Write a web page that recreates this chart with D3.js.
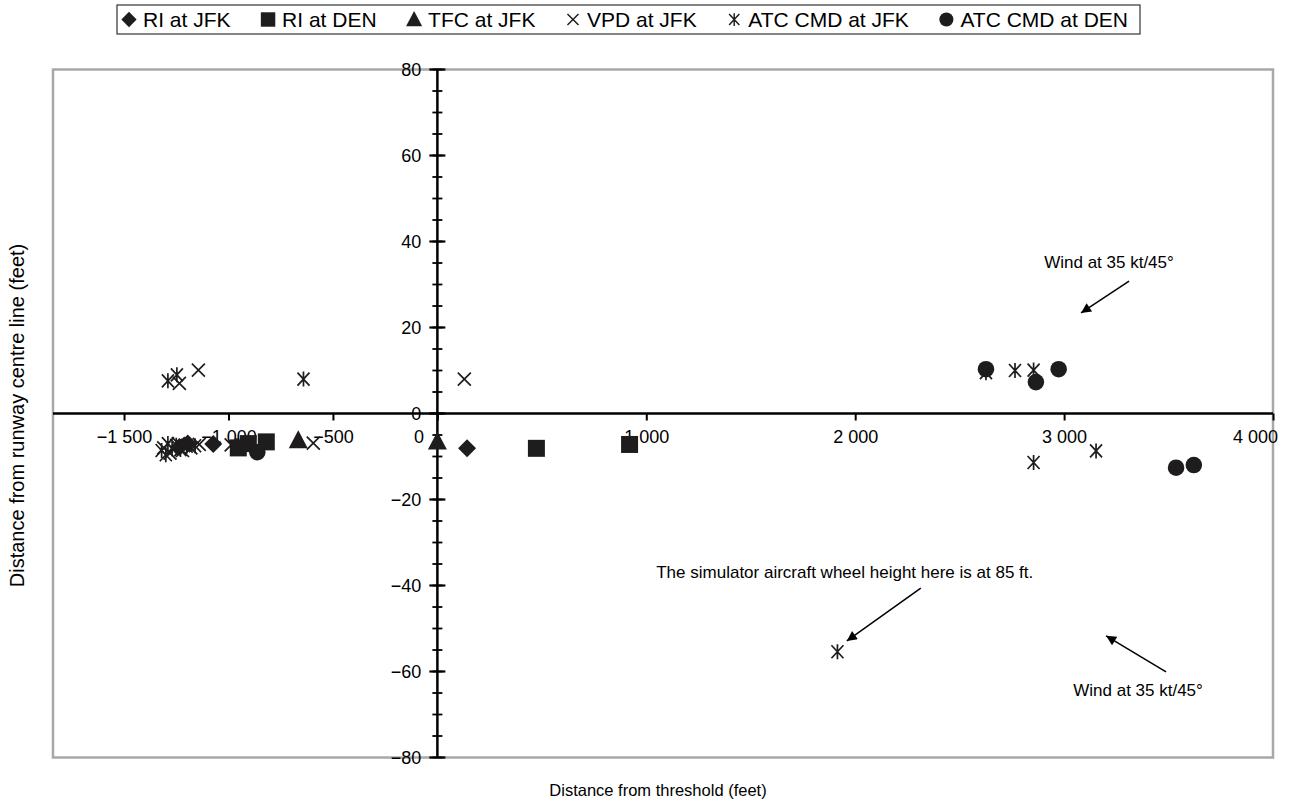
<!DOCTYPE html>
<html>
<head>
<meta charset="utf-8">
<script src="https://cdn.jsdelivr.net/npm/d3@7"></script>
<style>
body { margin: 0; background: #fff; }
svg { font-family: "Liberation Sans", Arial, sans-serif; }
</style>
</head>
<body>
<script>
// series values, [distance from threshold, distance from centre line] in feet
var riJfk = [[-1235, -7.8], [-1195, -7.0], [-1073, -7.1], [142, -8.1]];
var riDen = [[-953, -8.0], [-905, -7.0], [-819, -6.6], [474, -8.1], [920, -7.2]];
var tfcJfk = [[-666, -6.2], [0, -6.5]];
var vpdJfk = [[-1310, -8.0], [-1280, -9.2], [-1240, -7.0], [-1220, -8.6], [-1180, -8.0], [-1140, -7.2],
              [-987, -7.3], [-594, -6.9], [-1235, 7.0], [-1144, 10.1], [129, 8.0]];
var atcJfk = [[-1320, -8.6], [-1300, -9.6], [-1290, -7.0], [-1270, -8.2], [-1250, -7.4], [-1230, -8.4],
              [-1200, -7.6], [-1160, -7.5], [-1290, 7.6], [-1247, 9.0], [-641, 8.0],
              [2626, 9.5], [2765, 10.0], [2854, 10.1], [2854, -11.4], [3153, -8.7], [1915, -55.4]];
var atcDen = [[-862, -9.0], [2626, 10.3], [2865, 7.3], [2974, 10.3], [3536, -12.6], [3621, -12.0]];

var seriesNames = ["RI at JFK", "RI at DEN", "TFC at JFK", "VPD at JFK", "ATC CMD at JFK", "ATC CMD at DEN"];
var seriesData = [riJfk, riDen, tfcJfk, vpdJfk, atcJfk, atcDen];
var seriesShapes = ["diamond", "square", "triangle", "cross", "asterisk", "circle"];

// axis ticks
var xTicks = [-1500, -1000, -500, 0, 1000, 2000, 3000, 4000];
var yTicks = [-80, -60, -40, -20, 0, 20, 40, 60, 80];
var yMinorTicks = d3.range(-80, 81, 5);

// annotations: text position and arrow from/to, in data units
var notes = [
  {text: "Wind at 35 kt/45°", tx: 3215, ty: 35.2, from: [3311, 30.8], to: [3081, 23.4]},
  {text: "The simulator aircraft wheel height here is at 85 ft.", tx: 1950, ty: -36.9, from: [2314, -40.6], to: [1960, -52.9]},
  {text: "Wind at 35 kt/45°", tx: 3354, ty: -64.3, from: [3488, -60.1], to: [3201, -51.7]}
];

var W = 1290, H = 805;
var plot = {left: 53, top: 69.5, right: 1273, bottom: 757.5};
var ink = "#1e1c1d";

var svg = d3.select("body").append("svg")
  .attr("width", W).attr("height", H);

var x = d3.scaleLinear().domain([-1840, 4000]).range([plot.left, plot.right]);
var y = d3.scaleLinear().domain([-80, 80]).range([plot.bottom, plot.top]);

function fmt(v) {
  var s = d3.format(",")(Math.abs(v)).replace(/,/g, " ");
  return (v < 0 ? "\u2212" : "") + s;
}

// marker path generators, centred on 0,0
function shapePath(kind) {
  if (kind === "diamond") return "M0,-9L9,0L0,9L-9,0Z";
  if (kind === "square") return "M-8.5,-8.5H8.5V8.5H-8.5Z";
  if (kind === "triangle") return "M0,-10L9.5,8L-9.5,8Z";
  if (kind === "circle") return d3.symbol(d3.symbolCircle, 215)();
  if (kind === "cross") return "M-6.5,-6.5L6.5,6.5M6.5,-6.5L-6.5,6.5";
  if (kind === "asterisk") return "M-6,-6.5L6,6.5M6,-6.5L-6,6.5M0,-7.5V7.5";
}
function styleMarker(sel, kind) {
  var line = (kind === "cross" || kind === "asterisk");
  sel.attr("d", shapePath(kind))
    .attr("fill", line ? "none" : ink)
    .attr("stroke", ink)
    .attr("stroke-width", line ? 1.7 : 0);
}

// plot frame
svg.append("rect")
  .attr("x", plot.left).attr("y", plot.top)
  .attr("width", plot.right - plot.left).attr("height", plot.bottom - plot.top)
  .attr("fill", "none").attr("stroke", "#a8a8a8").attr("stroke-width", 2.5);

// x axis through y = 0
var xAxis = svg.append("g").attr("transform", "translate(0," + y(0) + ")")
  .call(d3.axisBottom(x).tickValues(xTicks).tickSize(7).tickSizeOuter(0).tickFormat(fmt));
xAxis.select(".domain").attr("stroke", "#000").attr("stroke-width", 2.5)
  .attr("d", "M" + plot.left + ",0H" + plot.right);
xAxis.selectAll(".tick line").attr("stroke", "#000").attr("stroke-width", 2);
xAxis.selectAll(".tick text")
  .attr("font-size", 18).attr("font-family", "Liberation Sans, Arial, sans-serif")
  .attr("fill", "#000").attr("y", 17)
  .attr("dx", function(d) { return d === 0 ? -19 : d === 4000 ? -18 : 0; });

// y axis through x = 0, ticks crossing the line
var yAxis = svg.append("g").attr("transform", "translate(" + x(0) + ",0)");
yAxis.append("line").attr("y1", plot.top).attr("y2", plot.bottom)
  .attr("stroke", "#000").attr("stroke-width", 2.5);
yAxis.selectAll(".minor").data(yMinorTicks).enter().append("line")
  .attr("x1", -5).attr("x2", 5)
  .attr("y1", function(d) { return y(d); }).attr("y2", function(d) { return y(d); })
  .attr("stroke", "#000").attr("stroke-width", 1.8);
yAxis.selectAll(".major").data(yTicks).enter().append("line")
  .attr("x1", -8).attr("x2", 8)
  .attr("y1", function(d) { return y(d); }).attr("y2", function(d) { return y(d); })
  .attr("stroke", "#000").attr("stroke-width", 2.2);
yAxis.selectAll(".lab").data(yTicks).enter().append("text")
  .attr("x", -16).attr("y", function(d) { return y(d); }).attr("dy", "0.35em")
  .attr("text-anchor", "end").attr("font-size", 18).attr("fill", "#000")
  .text(fmt);

// points
seriesData.forEach(function(data, i) {
  svg.append("g").selectAll("path").data(data).enter().append("path")
    .attr("transform", function(d) { return "translate(" + x(d[0]) + "," + y(d[1]) + ")"; })
    .call(styleMarker, seriesShapes[i]);
});

// annotations
svg.append("defs").append("marker")
  .attr("id", "arrow").attr("viewBox", "0 0 10 10").attr("refX", 10).attr("refY", 5)
  .attr("markerWidth", 15).attr("markerHeight", 10).attr("markerUnits", "userSpaceOnUse")
  .attr("orient", "auto")
  .append("path").attr("d", "M0,0L10,5L0,10Z").attr("fill", "#000");

notes.forEach(function(n) {
  svg.append("text").attr("x", x(n.tx)).attr("y", y(n.ty)).attr("dy", "0.35em")
    .attr("text-anchor", "middle").attr("font-size", 17).attr("fill", "#000").text(n.text);
  svg.append("line")
    .attr("x1", x(n.from[0])).attr("y1", y(n.from[1]))
    .attr("x2", x(n.to[0])).attr("y2", y(n.to[1]))
    .attr("stroke", "#000").attr("stroke-width", 1.5)
    .attr("marker-end", "url(#arrow)");
});

// axis titles
svg.append("text").attr("x", 658).attr("y", 796)
  .attr("text-anchor", "middle").attr("font-size", 16.5).text("Distance from threshold (feet)");
svg.append("text").attr("transform", "translate(24," + (y(0) + 2) + ") rotate(-90)")
  .attr("text-anchor", "middle").attr("font-size", 20).text("Distance from runway centre line (feet)");

// legend, spread across a fixed box
var legend = svg.append("g");
var box = {left: 117, right: 1140, top: 5, bottom: 34};
var ly = (box.top + box.bottom) / 2;
var items = seriesNames.map(function(name, i) {
  var g = legend.append("g");
  g.append("path").call(styleMarker, seriesShapes[i]);
  var t = g.append("text").attr("x", 14).attr("dy", "0.35em").attr("font-size", 21).text(name);
  return {g: g, w: t.node().getComputedTextLength()};
});
var markerPad = 12, textGap = 14;
var totalText = d3.sum(items, function(d) { return d.w; });
var gap = (box.right - box.left - markerPad * 2 - textGap * items.length - totalText) / (items.length - 1);
var lx = box.left + markerPad;
items.forEach(function(it) {
  it.g.attr("transform", "translate(" + lx + "," + ly + ")");
  it.g.select("path").attr("transform", "scale(0.85)");
  lx += textGap + it.w + gap;
});
legend.insert("rect", ":first-child")
  .attr("x", box.left).attr("y", box.top)
  .attr("width", box.right - box.left).attr("height", box.bottom - box.top)
  .attr("fill", "#fff").attr("stroke", "#333").attr("stroke-width", 1.2);
</script>
</body>
</html>
